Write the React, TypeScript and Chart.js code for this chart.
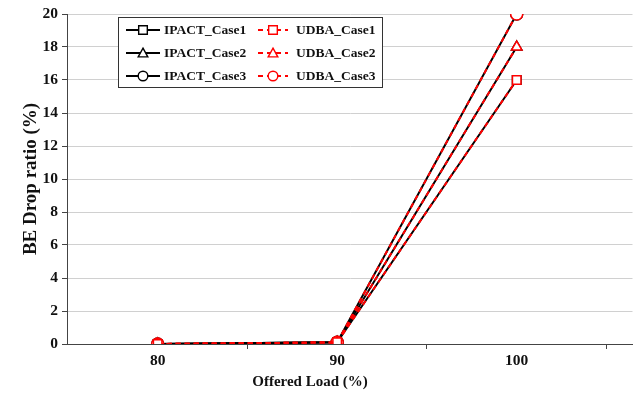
import React, { useEffect, useRef } from "react";
import { Chart, registerables } from "chart.js";

Chart.register(...registerables);

const loads = [80, 90, 100];
const ipactCase1 = [0, 0.1, 16];
const ipactCase2 = [0, 0.1, 18];
const ipactCase3 = [0, 0.1, 20];
const udbaCase1 = [0, 0.1, 16];
const udbaCase2 = [0, 0.1, 18];
const udbaCase3 = [0, 0.1, 20];
const xTickValues = [80, 85, 90, 95, 100, 105];
const legendLabels = [
  ["IPACT_Case1", "UDBA_Case1"],
  ["IPACT_Case2", "UDBA_Case2"],
  ["IPACT_Case3", "UDBA_Case3"],
];
const markerStyles = ["rect", "triangle", "circle"];

const FONT = "'Liberation Serif', 'Times New Roman', serif";
const RED = "#ff0000";
const BLACK = "#000000";

function pts(vals: number[]) {
  return loads.map((x, i) => ({ x, y: vals[i] }));
}

function drawMarker(ctx: CanvasRenderingContext2D, style: string, x: number, y: number, color: string) {
  ctx.save();
  ctx.setLineDash([]);
  ctx.strokeStyle = color;
  ctx.fillStyle = "#ffffff";
  ctx.lineWidth = 1.4;
  const r = 4.8;
  ctx.beginPath();
  if (style === "rect") {
    ctx.rect(x - r * 0.9, y - r * 0.9, r * 1.8, r * 1.8);
  } else if (style === "triangle") {
    ctx.moveTo(x, y - r);
    ctx.lineTo(x + r, y + r * 0.8);
    ctx.lineTo(x - r, y + r * 0.8);
    ctx.closePath();
  } else {
    ctx.arc(x, y, r, 0, Math.PI * 2);
  }
  ctx.fill();
  ctx.stroke();
  ctx.restore();
}

const overlayPlugin = {
  id: "overlay",
  afterDraw(chart: any) {
    const ctx: CanvasRenderingContext2D = chart.ctx;
    ctx.save();
    // x-axis title
    ctx.font = `bold 15px ${FONT}`;
    ctx.fillStyle = "#111";
    ctx.textAlign = "center";
    ctx.textBaseline = "middle";
    ctx.fillText("Offered Load (%)", 310, 382);

    // legend box
    const bx = 118, by = 17, bw = 264, bh = 70;
    ctx.fillStyle = "#ffffff";
    ctx.fillRect(bx, by, bw, bh);
    ctx.strokeStyle = "#333";
    ctx.lineWidth = 1;
    ctx.strokeRect(bx + 0.5, by + 0.5, bw, bh);

    const rows = [30, 53, 76];
    ctx.font = `bold 13.5px ${FONT}`;
    ctx.textAlign = "left";
    ctx.textBaseline = "middle";
    rows.forEach((y, i) => {
      // IPACT sample
      ctx.strokeStyle = BLACK;
      ctx.lineWidth = 1.8;
      ctx.setLineDash([]);
      ctx.beginPath();
      ctx.moveTo(126, y);
      ctx.lineTo(160, y);
      ctx.stroke();
      drawMarker(ctx, markerStyles[i], 143, y, BLACK);
      ctx.fillStyle = "#111";
      ctx.fillText(legendLabels[i][0], 164, y + 1);
      // UDBA sample
      ctx.strokeStyle = RED;
      ctx.setLineDash([5, 4]);
      ctx.beginPath();
      ctx.moveTo(258, y);
      ctx.lineTo(288, y);
      ctx.stroke();
      ctx.setLineDash([]);
      drawMarker(ctx, markerStyles[i], 273, y, RED);
      ctx.fillStyle = "#111";
      ctx.fillText(legendLabels[i][1], 296, y + 1);
    });
    ctx.restore();
  },
};

export default function App() {
  const ref = useRef<HTMLCanvasElement | null>(null);
  useEffect(() => {
    if (!ref.current) return;
    const ipact = [ipactCase1, ipactCase2, ipactCase3];
    const udba = [udbaCase1, udbaCase2, udbaCase3];
    const datasets: any[] = [];
    udba.forEach((v, i) =>
      datasets.push({
        label: legendLabels[i][1],
        data: pts(v),
        borderColor: RED,
        borderWidth: 2,
        borderDash: [5, 4],
        pointStyle: markerStyles[i],
        pointRadius: 6,
        pointBorderWidth: 1.5,
        pointBorderColor: RED,
        pointBackgroundColor: "#ffffff",
        fill: false,
        tension: 0,
      })
    );
    ipact.forEach((v, i) =>
      datasets.push({
        label: legendLabels[i][0],
        data: pts(v),
        borderColor: BLACK,
        borderWidth: 2,
        pointStyle: markerStyles[i],
        pointRadius: 6,
        pointBorderWidth: 1.5,
        pointBorderColor: BLACK,
        pointBackgroundColor: "#ffffff",
        fill: false,
        tension: 0,
      })
    );
    const chart = new Chart(ref.current, {
      type: "line",
      data: { datasets },
      plugins: [overlayPlugin],
      options: {
        animation: false,
        responsive: false,
        maintainAspectRatio: false,
        layout: { padding: { top: 14, right: 5, left: 0, bottom: 0 } },
        plugins: { legend: { display: false }, tooltip: { enabled: false } },
        scales: {
          x: {
            type: "linear",
            min: 74.95,
            max: 106.45,
            afterBuildTicks: (s: any) => {
              s.ticks = xTickValues.map((v) => ({ value: v }));
            },
            afterFit: (s: any) => {
              s.height = 52;
            },
            ticks: {
              autoSkip: false,
              maxRotation: 0,
              padding: 3,
              color: "#111",
              font: { family: FONT, size: 15.5, weight: "bold" },
              callback: (v: any) => (Number(v) % 10 === 0 ? String(v) : ""),
            },
            grid: {
              drawOnChartArea: false,
              drawTicks: true,
              tickLength: 5,
              tickColor: (c: any) =>
                c.tick && c.tick.value % 10 === 0 ? "rgba(0,0,0,0)" : "#444",
            },
            border: { color: "#444", width: 1 },
          },
          y: {
            min: 0,
            max: 20,
            afterFit: (s: any) => {
              s.width = 67;
            },
            ticks: {
              stepSize: 2,
              padding: 4,
              color: "#111",
              font: { family: FONT, size: 15.5, weight: "bold" },
            },
            grid: {
              color: "#d0d0d0",
              lineWidth: 1,
              tickLength: 5,
              tickColor: "#444",
            },
            border: { color: "#444", width: 1 },
            title: {
              display: true,
              text: "BE Drop ratio (%)",
              color: "#111",
              font: { family: FONT, size: 19, weight: "bold" },
              padding: { top: 20, bottom: 0 },
            },
          },
        },
      },
    });
    return () => chart.destroy();
  }, []);
  return (
    <div style={{ position: "fixed", left: 0, top: 0, width: 640, height: 396, background: "#fff" }}>
      <canvas ref={ref} width={640} height={396} style={{ width: 640, height: 396 }} />
    </div>
  );
}
